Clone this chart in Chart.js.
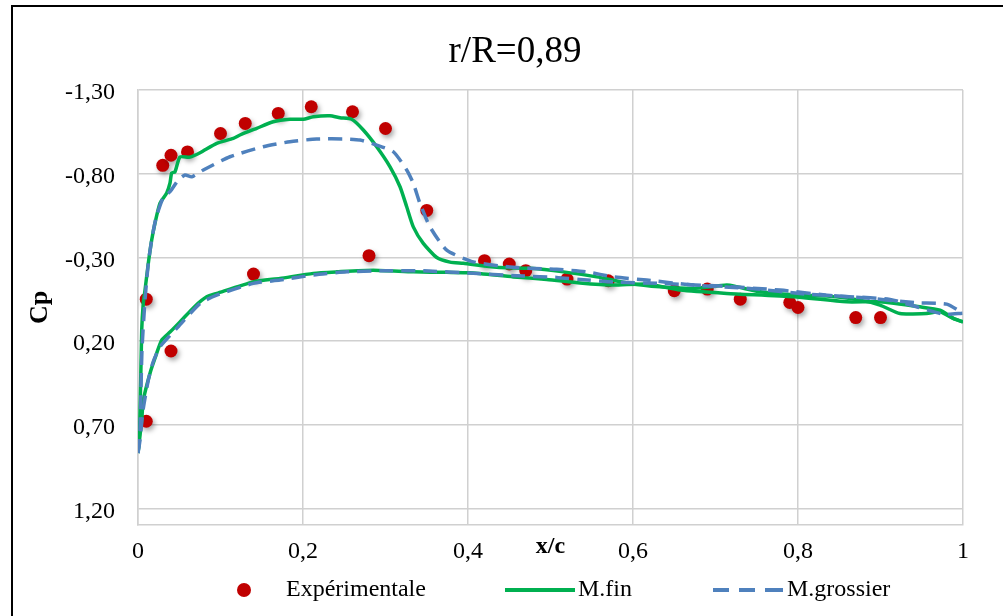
<!DOCTYPE html>
<html>
<head>
<meta charset="utf-8">
<script src="https://cdn.jsdelivr.net/npm/chart.js@4.4.0/dist/chart.umd.min.js"></script>
<style>
  body { margin: 0; background: #fff; overflow: hidden; }
  #wrap { position: relative; width: 1003px; height: 616px; font-family: 'Liberation Serif', 'Times New Roman', serif; color: #000; }
  #frame { position: absolute; left: 11px; top: 5px; width: 1100px; height: 700px; border-left: 2px solid #000; border-top: 2px solid #000; pointer-events: none; }
  #title { position: absolute; left: 0; width: 1030px; top: 31px; text-align: center; font-size: 37px; line-height: 37px; }
  .lg { position: absolute; font-size: 24px; line-height: 24px; top: 576px; white-space: nowrap; }
  .mk { position: absolute; }
</style>
</head>
<body>
<div id="wrap">
  <canvas id="cpChart" width="1003" height="616"></canvas>
  <div id="frame"></div>
  <div id="title">r/R=0,89</div>
  <div class="mk" style="left:237px;top:583px;width:14px;height:14px;border-radius:50%;background:#C00000;"></div>
  <div class="lg" style="left:286px;">Expérimentale</div>
  <div class="mk" style="left:505px;top:588px;width:70px;height:4px;background:#00B050;"></div>
  <div class="lg" style="left:578px;">M.fin</div>
  <div class="mk" style="left:713px;top:588px;width:16px;height:4px;background:#4F81BD;"></div>
  <div class="mk" style="left:739px;top:588px;width:16px;height:4px;background:#4F81BD;"></div>
  <div class="mk" style="left:765px;top:588px;width:18px;height:4px;background:#4F81BD;"></div>
  <div class="lg" style="left:787px;">M.grossier</div>
</div>
<script>
const FONT = "'Liberation Serif', 'Times New Roman', serif";

// ticks
const xTickValues = [0, 0.2, 0.4, 0.6, 0.8, 1];
const yTickValues = [-1.3, -0.8, -0.3, 0.2, 0.7, 1.2];

// Expérimentale
const expX  = [0.01, 0.01, 0.03, 0.04, 0.04, 0.06, 0.10, 0.13, 0.14, 0.17, 0.21, 0.26, 0.28, 0.30, 0.35,
               0.42, 0.45, 0.47, 0.52, 0.57, 0.65, 0.69, 0.73, 0.79, 0.80, 0.87, 0.90];
const expCp = [-0.05, 0.68, -0.85, -0.91, 0.26, -0.93, -1.04, -1.10, -0.20, -1.16, -1.20, -1.17, -0.31, -1.07, -0.58,
               -0.28, -0.26, -0.22, -0.17, -0.16, -0.10, -0.11, -0.05, -0.03, 0.00, 0.06, 0.06];

// M.fin - extrados
const finUpperX  = [0, 0.002, 0.0045, 0.0064, 0.0085, 0.0125, 0.0166, 0.0206, 0.0267, 0.0348, 0.0388, 0.0408, 0.0448,
                    0.0509, 0.063, 0.0752, 0.0954, 0.1155, 0.1236, 0.1439, 0.164, 0.1842, 0.2004, 0.2125, 0.2327,
                    0.2448, 0.259, 0.2731, 0.2893, 0.3055, 0.3176, 0.3257, 0.3337, 0.3458, 0.3621, 0.3782, 0.3943,
                    0.4348, 0.4752, 0.5155, 0.556, 0.5964, 0.6327, 0.6731, 0.7136, 0.7257, 0.7539, 0.8004, 0.8348,
                    0.8752, 0.8994, 0.9236, 0.956, 0.9721, 0.9882, 1.0];
const finUpperCp = [0.87, 0.73, 0.135, -0.026, -0.104, -0.265, -0.403, -0.505, -0.624, -0.684, -0.744, -0.804, -0.811,
                    -0.899, -0.899, -0.925, -0.981, -1.011, -1.031, -1.071, -1.110, -1.125, -1.125, -1.140, -1.146,
                    -1.134, -1.125, -1.061, -0.961, -0.841, -0.722, -0.602, -0.482, -0.383, -0.299, -0.271, -0.264,
                    -0.240, -0.234, -0.213, -0.183, -0.144, -0.124, -0.114, -0.134, -0.124, -0.094, -0.074, -0.068,
                    -0.044, -0.014, 0.036, 0.036, 0.026, 0.065, 0.086];

// M.fin - intrados
const finLowerX  = [0, 0.0045, 0.0064, 0.0145, 0.0206, 0.0287, 0.0388, 0.0509, 0.0691, 0.0833, 0.0954, 0.1398, 0.1721,
                    0.2125, 0.2408, 0.2852, 0.3337, 0.3742, 0.4024, 0.4549, 0.4954, 0.5358, 0.5761, 0.6166, 0.657,
                    0.7136, 0.7943, 0.859, 0.8994, 0.9479, 0.9721, 0.9882, 1.0];
const finLowerCp = [0.87, 0.674, 0.554, 0.394, 0.303, 0.195, 0.147, 0.086, -0.008, -0.064, -0.084, -0.153, -0.174,
                    -0.204, -0.213, -0.223, -0.213, -0.210, -0.207, -0.183, -0.168, -0.147, -0.134, -0.140, -0.104,
                    -0.084, -0.064, -0.034, -0.034, -0.004, 0.016, 0.065, 0.086];

// M.grossier - extrados
const grosUpperX  = [0, 0.0024, 0.0048, 0.0085, 0.0125, 0.017, 0.0218, 0.0303, 0.0388, 0.0488, 0.057, 0.0651, 0.0792,
                     0.1115, 0.1519, 0.1842, 0.2166, 0.253, 0.2691, 0.2893, 0.3095, 0.3257, 0.3337, 0.3418, 0.3539,
                     0.3742, 0.4064, 0.4549, 0.5075, 0.5439, 0.5761, 0.6166, 0.6731, 0.7418, 0.8105, 0.8752, 0.9439,
                     0.9802, 1.0];
const grosUpperCp = [0.87, 0.733, 0.255, -0.044, -0.265, -0.415, -0.534, -0.654, -0.692, -0.762, -0.792, -0.781, -0.822,
                     -0.901, -0.961, -0.991, -1.007, -1.007, -1.001, -0.971, -0.931, -0.822, -0.742, -0.622, -0.482,
                     -0.343, -0.273, -0.240, -0.228, -0.213, -0.183, -0.164, -0.134, -0.114, -0.080, -0.060, -0.028,
                     -0.020, 0.034];

// M.grossier - intrados
const grosLowerX  = [0, 0.0024, 0.0061, 0.0125, 0.0182, 0.0267, 0.0469, 0.0752, 0.0954, 0.1398, 0.1721, 0.2125, 0.253,
                     0.2933, 0.3458, 0.4064, 0.467, 0.5075, 0.5358, 0.5761, 0.6327, 0.7055, 0.7782, 0.8428, 0.9115,
                     0.9758, 1.0];
const grosLowerCp = [0.87, 0.793, 0.614, 0.434, 0.327, 0.235, 0.125, -0.024, -0.074, -0.144, -0.164, -0.194, -0.213,
                     -0.219, -0.219, -0.204, -0.188, -0.180, -0.168, -0.153, -0.144, -0.128, -0.104, -0.070, -0.048,
                     0.040, 0.034];

const toPts = (xs, ys) => xs.map((x, i) => ({ x: x, y: ys[i] }));

const GRID = '#D0D0D0';
const GREEN = '#00B050';
const BLUE = '#4F81BD';

// soft shadow under the experimental dots
const pointShadow = {
    id: 'pointShadow',
    beforeDatasetDraw(chart, args) {
        if (args.index !== 0) return;
        const c = chart.ctx;
        c.save();
        c.shadowColor = 'rgba(0,0,0,0.35)';
        c.shadowBlur = 5;
        c.shadowOffsetX = 2;
        c.shadowOffsetY = 3;
    },
    afterDatasetDraw(chart, args) {
        if (args.index === 0) chart.ctx.restore();
    }
};

const lineBase = { showLine: true, pointRadius: 0, pointHoverRadius: 0, borderWidth: 3.5, tension: 0.2, fill: false };

new Chart(document.getElementById('cpChart').getContext('2d'), {
    type: 'scatter',
    data: {
        datasets: [
            {
                label: 'Expérimentale',
                data: toPts(expX, expCp),
                backgroundColor: '#C00000',
                borderColor: '#C00000',
                borderWidth: 0,
                pointRadius: 6.5,
                pointHoverRadius: 6.5,
                order: 3
            },
            Object.assign({ label: 'M.fin', data: toPts(finUpperX, finUpperCp), borderColor: GREEN, order: 2 }, lineBase),
            Object.assign({ label: 'M.fin', data: toPts(finLowerX, finLowerCp), borderColor: GREEN, order: 2 }, lineBase),
            Object.assign({ label: 'M.grossier', data: toPts(grosUpperX, grosUpperCp), borderColor: BLUE, borderDash: [14, 8], order: 1 }, lineBase),
            Object.assign({ label: 'M.grossier', data: toPts(grosLowerX, grosLowerCp), borderColor: BLUE, borderDash: [14, 8], order: 1 }, lineBase)
        ]
    },
    options: {
        responsive: false,
        animation: false,
        layout: { padding: { left: 0, right: 40, top: 90, bottom: 0 } },
        plugins: {
            legend: { display: false },
            title: { display: false },
            tooltip: { enabled: false }
        },
        scales: {
            x: {
                type: 'linear',
                min: 0,
                max: 1,
                afterBuildTicks: s => { s.ticks = xTickValues.map(v => ({ value: v })); },
                afterFit: s => { s.height = 91; },
                grid: { color: GRID, lineWidth: 1.5, drawTicks: false },
                border: { color: GRID, width: 1.5 },
                ticks: {
                    padding: 12,
                    color: '#000',
                    autoSkip: false,
                    maxRotation: 0,
                    font: { family: FONT, size: 24 },
                    callback: v => (v === 0 || v === 1) ? String(v) : v.toFixed(1).replace('.', ',')
                },
                title: {
                    display: true,
                    text: 'x/c',
                    color: '#000',
                    font: { family: FONT, size: 24, weight: 'bold' },
                    padding: { top: 0, bottom: 54.6 }
                }
            },
            y: {
                type: 'linear',
                reverse: true,
                min: -1.3,
                max: 1.3,
                afterBuildTicks: s => { s.ticks = yTickValues.map(v => ({ value: v })); },
                afterFit: s => { s.width = 138; },
                grid: { color: GRID, lineWidth: 1.5, drawTicks: false },
                border: { color: GRID, width: 1.5 },
                ticks: {
                    padding: 23,
                    labelOffset: 3,
                    color: '#000',
                    font: { family: FONT, size: 24 },
                    callback: v => v.toFixed(2).replace('.', ',')
                },
                title: {
                    display: true,
                    text: 'Cp',
                    color: '#000',
                    font: { family: FONT, size: 26, weight: 'bold' },
                    padding: { top: 24.4, bottom: 0 }
                }
            }
        }
    },
    plugins: [pointShadow]
});
</script>
</body>
</html>
